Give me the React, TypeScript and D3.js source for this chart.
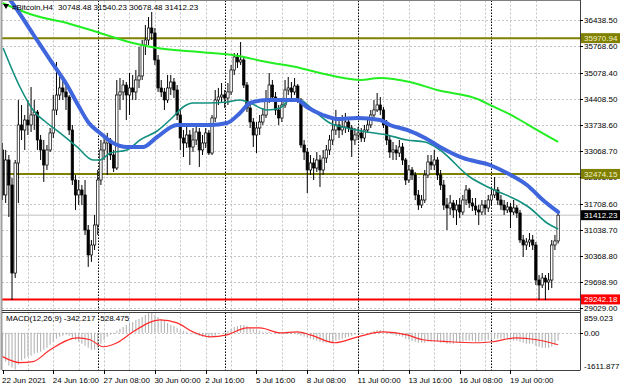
import React from 'react';
import * as d3 from 'd3';

// H4 candles, open = previous close
const firstOpen = 33091;
const closes = [
  31932, 32833, 32189, 29922, 32756, 33735, 33606, 33863, 33735, 33992,
  34069, 33348, 33091, 32704, 33091, 33529, 34121, 34507, 34688, 34585,
  34456, 33606, 32318, 31932, 32061, 31932, 31030, 30388, 30644, 31159,
  32318, 33091, 33271, 33348, 32962, 32627, 34507, 34585, 34764, 34507,
  34688, 34585, 34894, 34997, 35795, 35924, 36233, 36104, 35409, 34688,
  34585, 34379, 34688, 34842, 34636, 33992, 33400, 33271, 33477, 33168,
  33348, 33554, 33091, 33271, 33529, 33013, 33915, 34379, 34456, 34507,
  34430, 34585, 35151, 35486, 35357, 35409, 34764, 34172, 33812, 33477,
  33657, 33812, 33992, 34379, 34764, 34456, 34121, 33915, 34250, 34636,
  34688, 34585, 34739, 34379, 33219, 33039, 32576, 32756, 32627, 32833,
  32576, 32885, 33091, 33348, 33606, 33735, 33606, 33683, 33812, 33657,
  33348, 33477, 33529, 33400, 33606, 33735, 33992, 34121, 34250, 34121,
  33735, 33348, 33039, 33091, 33013, 33168, 32833, 32318, 32576, 32447,
  31932, 31674, 31803, 32447, 32782, 32704, 32833, 32447, 32189, 31674,
  31597, 31726, 31546, 31674, 31494, 31803, 32061, 31726, 31648, 31546,
  31494, 31674, 31597, 31803, 31932, 32061, 31803, 31674, 31546, 31623,
  31494, 31597, 31468, 30773, 30644, 30721, 30773, 30644, 29742, 29613,
  29794, 29691, 29742, 30644, 30748.48, 31412.23,
];
const highs = [
  33271, 33091, 32962, 32370, 32833, 34379, 34250, 33992, 34379, 34713,
  34379, 34121, 33477, 33348, 33219, 33657, 34507, 35357, 35023, 34894,
  34764, 34507, 33735, 32447, 32318, 32189, 32318, 31159, 30773, 31417,
  32576, 33348, 33477, 33529, 33400, 33091, 34894, 34945, 34894, 34842,
  35074, 35023, 35151, 35743, 35924, 36310, 36516, 36645, 36233, 35537,
  34894, 34688, 35023, 35023, 34945, 34764, 34121, 33606, 33735, 33606,
  33657, 33683, 33657, 33477, 33657, 33606, 33992, 34636, 34688, 34816,
  34636, 34816, 35280, 35589, 35589, 35872, 35486, 34842, 34250, 33915,
  33812, 33992, 34172, 34636, 35074, 34894, 34585, 34250, 34379, 34894,
  34971, 34842, 34945, 34790, 34430, 33348, 33142, 32962, 32885, 33039,
  32962, 33091, 33219, 33477, 33863, 34121, 33915, 33992, 34044, 33941,
  33735, 33657, 33683, 33657, 33735, 33863, 34121, 34379, 34559, 34456,
  34198, 33863, 33477, 33297, 33219, 33348, 33271, 32885, 32704, 32653,
  32524, 32061, 31932, 32576, 32962, 32962, 33091, 32910, 32576, 32318,
  31855, 31932, 31803, 31803, 31855, 31932, 32189, 32112, 31855, 31855,
  31674, 31803, 31803, 31932, 32112, 32395, 32138, 31932, 31803, 31752,
  31726, 31803, 31674, 31546, 30902, 30824, 30953, 30902, 30721, 29871,
  29922, 29871, 29922, 30773, 30902, 31540.23,
];
const lows = [
  31803, 31726, 31365, 29227, 29794, 31726, 33348, 33091, 33477, 33554,
  33606, 33091, 32833, 32267, 32576, 33039, 33400, 33992, 34379, 34379,
  34121, 33477, 32189, 31546, 31674, 31674, 30902, 30079, 30208, 30515,
  30902, 32189, 32833, 32447, 32833, 32524, 32576, 34121, 34379, 33863,
  33992, 34379, 34379, 34688, 34894, 35537, 35795, 35924, 35280, 34585,
  34456, 34121, 34301, 34507, 34430, 33863, 33091, 32910, 33142, 32704,
  33039, 33219, 32653, 32962, 33142, 32962, 32962, 33812, 34250, 34301,
  34172, 34250, 34507, 35023, 35203, 35280, 34688, 34069, 33657, 33168,
  33013, 33477, 33735, 33915, 34301, 34327, 33992, 33735, 33812, 34172,
  34507, 34430, 34507, 34301, 33142, 32833, 31983, 32447, 32318, 32524,
  32138, 32447, 32756, 32962, 33219, 33477, 33400, 33477, 33529, 33554,
  32910, 33219, 33348, 33297, 33297, 33529, 33657, 33915, 34069, 33992,
  33657, 33219, 32885, 32833, 32833, 32910, 32704, 32189, 32241, 32318,
  31803, 31546, 31597, 31726, 32370, 32576, 32576, 32318, 32061, 31546,
  31030, 31417, 31340, 31159, 31340, 31417, 31674, 31597, 31520, 31417,
  31159, 31417, 31417, 31494, 31674, 31855, 31674, 31546, 31417, 31468,
  31082, 31417, 31340, 30696, 30336, 30515, 30593, 30515, 29613, 29227,
  29536, 29227, 29484, 29536, 30515, 30678.48,
];

// moving averages, [bar, price]
const blueMA: [number, number][] = [
  [0, 37190], [2.4, 36954], [9.6, 36078], [15, 35409], [20.3, 34764], [23.8, 34250],
  [27.2, 33786], [30.7, 33529], [34.8, 33271], [39.2, 33168], [44.2, 33168], [48.7, 33425],
  [55, 33735], [65.4, 33735], [70.7, 33786], [74.8, 34044], [78, 34301], [83.3, 34379],
  [87.4, 34379], [92.8, 34379], [95.9, 34198], [100.9, 33992], [105.4, 33889], [111.7, 33915],
  [118.9, 33863], [122, 33735], [127.4, 33606], [133.1, 33400], [137.8, 33168], [145, 32885],
  [153.5, 32704], [158.9, 32498], [165.2, 32189], [170.2, 31803], [175, 31494],
];
const tealMA: [number, number][] = [
  [0.2, 35718], [5.5, 34713], [9.6, 34121], [14, 33786], [18.1, 33529], [23.5, 33168],
  [28.5, 32833], [30.7, 32833], [33.9, 33013], [39.2, 33091], [43.3, 33348], [48.7, 33580],
  [53.7, 33941], [56.9, 34198], [60, 34301], [64.4, 34301], [70.7, 34327], [74.8, 34379],
  [78, 34301], [83.3, 34121], [87.4, 34172], [90.6, 34379], [93.7, 34379], [97.8, 34121],
  [103.1, 33786], [108.5, 33657], [114.8, 33554], [121.1, 33477], [127.4, 33348], [133.1, 33297],
  [137.8, 33091], [147.2, 32395], [153.5, 32112], [162, 31803], [166.1, 31597], [171.5, 31211],
  [175, 31056],
];
const greenMA: [number, number][] = [
  [0, 36877], [9.6, 36567], [20.3, 36362], [30.7, 36104], [41.1, 35846], [48.7, 35717],
  [62.2, 35614], [72.6, 35537], [83.3, 35357], [93.7, 35203], [100, 35074], [112.6, 34894],
  [118.9, 34945], [128.3, 34842], [136.9, 34636], [150.4, 34379], [153.5, 34250], [158.9, 34044],
  [163, 33863], [168.3, 33606], [175, 33297],
];

// MACD(12,26,9)
const macdMain = [
  -1092, -1266, -1439, -1526, -1611.877, -1396, -1222, -1136, -1049, -1006,
  -919, -876, -832, -746, -659, -529, -399, -269, -182, -139,
  -95, -139, -225, -312, -399, -486, -572, -659, -746, -746,
  -659, -486, -312, -182, -95, -52, 78, 165, 251, 338,
  425, 468, 555, 598, 685, 772, 845, 859.023, 772, 685,
  598, 512, 425, 338, 295, 208, 121, 78, 35, -9,
  -52, -95, -139, -182, -182, -225, -182, -139, -52, -9,
  35, 78, 165, 251, 295, 338, 338, 295, 251, 165,
  121, 78, 35, 35, 35, -9, -52, -52, -52, -52,
  -52, -52, -52, -95, -139, -182, -225, -269, -312, -355,
  -399, -442, -442, -442, -399, -355, -312, -269, -225, -182,
  -139, -95, -52, -52, -9, -9, 35, 78, 121, 121,
  78, 35, -52, -95, -139, -139, -182, -269, -312, -355,
  -399, -442, -442, -442, -399, -399, -399, -399, -442, -442,
  -486, -486, -486, -442, -442, -399, -355, -355, -370, -399,
  -399, -355, -355, -312, -312, -269, -269, -269, -312, -312,
  -312, -355, -355, -399, -442, -486, -486, -486, -572, -616,
  -659, -659, -659, -616, -529, -342.217,
];
const macdSignal: [number, number][] = [
  [0, -1049], [5.5, -1309], [9.6, -1266], [15, -746], [23.5, -225], [27.6, -312],
  [31.7, -616], [36.1, -442], [41.1, 35], [49.6, 555], [55, 425], [60, 35],
  [65.4, -182], [70.7, -95], [77, 208], [81.1, 208], [87.4, -9], [92.8, 35],
  [96.9, -95], [104.7, -442], [111.9, -182], [119.8, 35], [127.4, -95], [132.4, -312],
  [140.9, -399], [149.5, -442], [154.2, -399], [162, -225], [168.3, -312], [175, -528.475],
];

const priceTicks = [
  29029.0, 29698.9, 30368.8, 31038.7, 31708.6, 32398.8,
  33068.7, 33738.6, 34408.5, 35078.4, 35768.6, 36438.5,
];
const timeLabels = [
  '22 Jun 2021', '24 Jun 16:00', '27 Jun 08:00', '30 Jun 00:00', '2 Jul 16:00', '5 Jul 16:00',
  '8 Jul 08:00', '11 Jul 00:00', '13 Jul 16:00', '16 Jul 08:00', '19 Jul 00:00',
];
const weekStarts = [30, 70, 112, 154];
const levels = [
  { value: 35970.94, color: '#808000', text: '#f4f4c8' },
  { value: 32474.15, color: '#808000', text: '#f4f4c8' },
  { value: 29242.18, color: '#ff0000', text: '#ffffff' },
];
const lastPrice = 31412.23;
const macdRange = [-1611.877, 859.023];

const FONT = 'Liberation Sans, Arial, sans-serif';

export default function App() {
  const W = 620;
  const H = 388;
  const left = 2;
  const right = 580;
  const mainTop = 0.5;
  const mainBottom = 310.5;
  const macdTop = 312.5;
  const macdBottom = 370;

  const x = d3.scaleLinear().domain([0, 175]).range([2.5, 558.1]);
  const y = d3.scaleLinear().domain([29029, 36438.5]).range([307.7, 20]);
  const ym = d3.scaleLinear().domain(macdRange).range([369.5, 313]);

  const maLine = d3.line<[number, number]>()
    .x((d) => x(d[0]))
    .y((d) => y(d[1]))
    .curve(d3.curveMonotoneX);
  const sigLine = d3.line<[number, number]>()
    .x((d) => x(d[0]))
    .y((d) => ym(d[1]))
    .curve(d3.curveMonotoneX);

  const gridBars = d3.range(8, 176, 8);
  const bodyW = 2.4;
  const px = (v: number) => Math.round(v) + 0.5;

  return (
    <svg width={W} height={H} style={{ position: 'absolute', left: 0, top: 0, background: '#fff' }}
      fontFamily={FONT} fontSize={8}>
      <defs>
        <clipPath id="mainClip">
          <rect x={left} y={mainTop} width={right - left} height={mainBottom - mainTop} />
        </clipPath>
        <clipPath id="macdClip">
          <rect x={left} y={macdTop} width={right - left} height={macdBottom - macdTop} />
        </clipPath>
      </defs>
      <rect width={W} height={H} fill="#fff" />

      {/* grid */}
      {priceTicks.map((p) => (
        <line key={p} x1={left} x2={right} y1={px(y(p))} y2={px(y(p))}
          stroke="#c4c4c4" strokeDasharray="2,2" />
      ))}
      <line x1={left} x2={right} y1={px(ym(0))} y2={px(ym(0))} stroke="#c4c4c4" strokeDasharray="2,2" />
      {gridBars.map((b) => (
        <g key={b}>
          <line x1={px(x(b))} x2={px(x(b))} y1={mainTop} y2={mainBottom} stroke="#c4c4c4" strokeDasharray="2,2" />
          <line x1={px(x(b))} x2={px(x(b))} y1={macdTop} y2={macdBottom} stroke="#c4c4c4" strokeDasharray="2,2" />
        </g>
      ))}
      {weekStarts.map((b) => (
        <g key={b}>
          <line x1={px(x(b))} x2={px(x(b))} y1={mainTop} y2={mainBottom} stroke="#000" strokeDasharray="1.5,1.5" />
          <line x1={px(x(b))} x2={px(x(b))} y1={macdTop} y2={macdBottom} stroke="#000" strokeDasharray="1.5,1.5" />
        </g>
      ))}

      {/* level lines */}
      <line x1={left} x2={right} y1={y(lastPrice)} y2={y(lastPrice)} stroke="#c0c0c0" strokeWidth={1} />
      {levels.map((l) => (
        <line key={l.value} x1={left} x2={right} y1={y(l.value)} y2={y(l.value)} stroke={l.color} strokeWidth={2} />
      ))}

      {/* candles */}
      <g clipPath="url(#mainClip)">
        {closes.map((c, i) => {
          const o = i === 0 ? firstOpen : closes[i - 1];
          const cx = x(i);
          const bull = c >= o;
          const top = y(Math.max(o, c));
          const bot = y(Math.min(o, c));
          return (
            <g key={i}>
              <line x1={cx} x2={cx} y1={y(highs[i])} y2={y(lows[i])} stroke="#000" strokeWidth={1} />
              <rect x={cx - bodyW / 2} y={top} width={bodyW} height={Math.max(bot - top, 0.8)}
                fill={bull ? '#ffffff' : '#000000'} stroke="#000" strokeWidth={0.7} />
            </g>
          );
        })}

        <path d={maLine(greenMA) ?? ''} fill="none" stroke="#22ee22" strokeWidth={2} />
        <path d={maLine(tealMA) ?? ''} fill="none" stroke="#13907f" strokeWidth={1.6} />
        <path d={maLine(blueMA) ?? ''} fill="none" stroke="#3f66dc" strokeWidth={4} strokeLinecap="round" />
      </g>

      {/* MACD */}
      <g clipPath="url(#macdClip)">
        {macdMain.map((v, i) => (
          <line key={i} x1={x(i)} x2={x(i)} y1={ym(0)} y2={ym(v)} stroke="#b4b4b4" strokeWidth={1.1} />
        ))}
        <path d={sigLine(macdSignal) ?? ''} fill="none" stroke="#ff2a2a" strokeWidth={1.2} />
      </g>

      {/* frames */}
      <line x1={1.5} x2={1.5} y1={0} y2={macdBottom} stroke="#a0a0a0" strokeWidth={2} />
      <line x1={left} x2={right} y1={0.5} y2={0.5} stroke="#808080" />
      <line x1={left} x2={right} y1={mainBottom} y2={mainBottom} stroke="#404040" />
      <line x1={left} x2={right} y1={macdTop} y2={macdTop} stroke="#404040" />
      <line x1={left} x2={right} y1={macdBottom + 0.5} y2={macdBottom + 0.5} stroke="#404040" />
      <line x1={right + 0.5} x2={right + 0.5} y1={0} y2={macdBottom + 0.5} stroke="#404040" />

      {/* price axis */}
      {priceTicks.map((p) => (
        <g key={p}>
          <line x1={right} x2={right + 3} y1={px(y(p))} y2={px(y(p))} stroke="#000" />
          <text x={584} y={y(p) + 3} fill="#000">{p.toFixed(2)}</text>
        </g>
      ))}
      {levels.map((l) => (
        <g key={l.value}>
          <rect x={581} y={y(l.value) - 5} width={39} height={10} fill={l.color} />
          <text x={584} y={y(l.value) + 3} fill={l.text}>{l.value.toFixed(2)}</text>
        </g>
      ))}
      <rect x={581} y={y(lastPrice) - 5} width={39} height={10} fill="#000" />
      <text x={584} y={y(lastPrice) + 3} fill="#fff">{lastPrice.toFixed(2)}</text>

      {/* MACD axis */}
      <text x={584} y={ym(macdRange[1]) + 7.5}>{macdRange[1].toFixed(3)}</text>
      <line x1={right} x2={right + 3} y1={px(ym(0))} y2={px(ym(0))} stroke="#000" />
      <text x={584} y={ym(0) + 3}>0.00</text>
      <text x={584} y={ym(macdRange[0]) - 0.5}>{macdRange[0].toFixed(3)}</text>

      {/* time axis */}
      {timeLabels.map((t, i) => (
        <g key={t}>
          <line x1={px(x(i * 16))} x2={px(x(i * 16))} y1={macdBottom} y2={macdBottom + 4} stroke="#000" />
          <text x={x(i * 16) - 0.5} y={382.5}>{t}</text>
        </g>
      ))}

      {/* titles */}
      <path d="M3,4 L9,4 L6,9 Z" fill="#000" />
      <text x={12} y={10}>#Bitcoin,H4</text>
      <text x={58} y={10}>{`${closes[closes.length - 2].toFixed(2)} ${highs[highs.length - 1].toFixed(2)} ${lows[lows.length - 1].toFixed(2)} ${lastPrice.toFixed(2)}`}</text>
      <text x={6} y={321}>{`MACD(12,26,9) ${macdMain[macdMain.length - 1].toFixed(3)} ${macdSignal[macdSignal.length - 1][1].toFixed(3)}`}</text>
    </svg>
  );
}
